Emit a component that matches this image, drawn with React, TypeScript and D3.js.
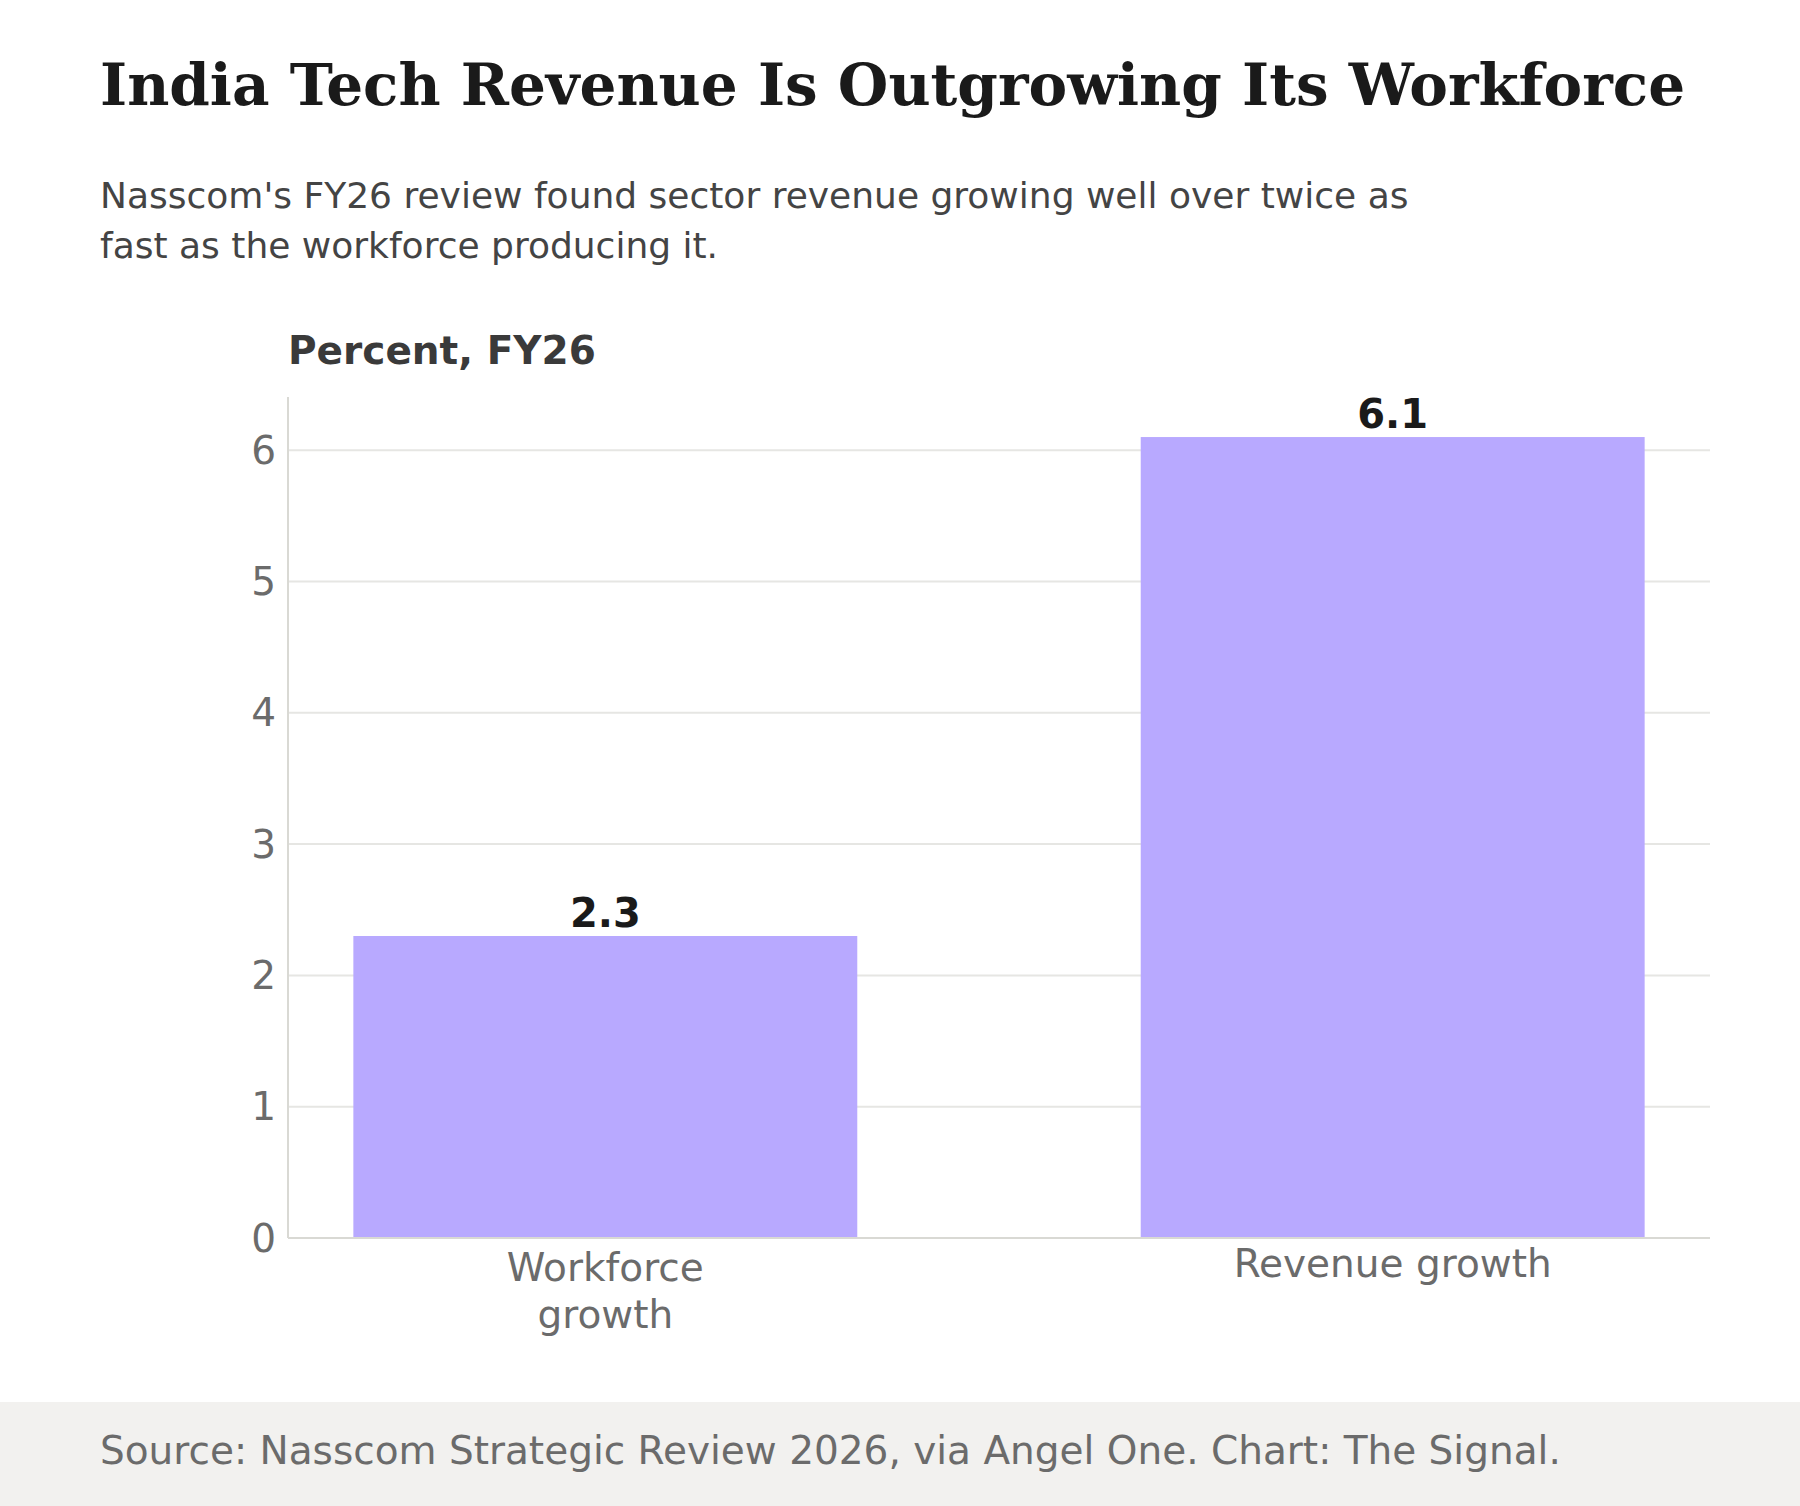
import React, { useEffect, useRef } from 'react';
import * as d3 from 'd3';

const categories: string[] = ['Workforce growth', 'Revenue growth'];
const values: number[] = [2.3, 6.1];
const yTicks: number[] = [0, 1, 2, 3, 4, 5, 6];

const title = 'India Tech Revenue Is Outgrowing Its Workforce';
const subtitleLines: string[] = [
  "Nasscom's FY26 review found sector revenue growing well over twice as",
  'fast as the workforce producing it.',
];
const axisTitle = 'Percent, FY26';
const source = 'Source: Nasscom Strategic Review 2026, via Angel One. Chart: The Signal.';

const SANS = '"DejaVu Sans", Verdana, sans-serif';
const SERIF = '"DejaVu Serif", Georgia, serif';

const App: React.FC = () => {
  const svgRef = useRef<SVGSVGElement | null>(null);

  useEffect(() => {
    if (!svgRef.current) return;
    const width = 1800;
    const height = 1506;
    const svg = d3.select(svgRef.current);
    svg.selectAll('*').remove();
    svg.attr('width', width).attr('height', height);

    const left = 288;
    const right = 1710;
    const top = 397;
    const bottom = 1238;

    const x = d3
      .scaleBand<string>()
      .domain(categories)
      .range([left, right])
      .paddingInner(0.36)
      .paddingOuter(0.083);

    const y = d3
      .scaleLinear()
      .domain([0, d3.max(values)! * 1.05])
      .range([bottom, top]);

    svg.append('rect').attr('width', width).attr('height', height).attr('fill', '#ffffff');

    // header
    svg
      .append('text')
      .attr('x', 100)
      .attr('y', 105)
      .style('font-family', SERIF)
      .style('font-weight', 'bold')
      .style('font-size', '58px')
      .style('fill', '#1a1a1a')
      .text(title);

    svg
      .append('g')
      .selectAll('text')
      .data(subtitleLines)
      .enter()
      .append('text')
      .attr('x', 100)
      .attr('y', (d, i) => 208 + i * 50)
      .style('font-family', SANS)
      .style('font-size', '36px')
      .style('fill', '#444444')
      .text((d) => d);

    svg
      .append('text')
      .attr('x', left)
      .attr('y', 364)
      .style('font-family', SANS)
      .style('font-weight', 'bold')
      .style('font-size', '39px')
      .style('fill', '#3a3a3a')
      .text(axisTitle);

    // gridlines
    svg
      .append('g')
      .selectAll('line')
      .data(yTicks.filter((t) => t > 0))
      .enter()
      .append('line')
      .attr('x1', left)
      .attr('x2', right)
      .attr('y1', (d) => y(d))
      .attr('y2', (d) => y(d))
      .style('stroke', '#e6e6e3')
      .style('stroke-width', 2);

    // y tick labels
    svg
      .append('g')
      .selectAll('text')
      .data(yTicks)
      .enter()
      .append('text')
      .attr('x', left - 12)
      .attr('y', (d) => y(d))
      .attr('dy', '0.35em')
      .attr('text-anchor', 'end')
      .style('font-family', SANS)
      .style('font-size', '39px')
      .style('fill', '#6b6b6b')
      .text((d) => String(d));

    // bars
    svg
      .append('g')
      .selectAll('rect')
      .data(values)
      .enter()
      .append('rect')
      .attr('x', (d, i) => x(categories[i])!)
      .attr('y', (d) => y(d))
      .attr('width', x.bandwidth())
      .attr('height', (d) => y(0) - y(d))
      .style('fill', '#b8a9ff');

    // value labels
    svg
      .append('g')
      .selectAll('text')
      .data(values)
      .enter()
      .append('text')
      .attr('x', (d, i) => x(categories[i])! + x.bandwidth() / 2)
      .attr('y', (d) => y(d) - 9)
      .attr('text-anchor', 'middle')
      .style('font-family', SANS)
      .style('font-weight', 'bold')
      .style('font-size', '40px')
      .style('fill', '#1a1a1a')
      .text((d) => d.toFixed(1));

    // axis lines
    svg
      .append('line')
      .attr('x1', left)
      .attr('x2', left)
      .attr('y1', top)
      .attr('y2', bottom)
      .style('stroke', '#d9d9d4')
      .style('stroke-width', 2);
    svg
      .append('line')
      .attr('x1', left)
      .attr('x2', right)
      .attr('y1', bottom)
      .attr('y2', bottom)
      .style('stroke', '#d9d9d4')
      .style('stroke-width', 2);

    // category labels, wrapped when too wide
    const maxLabel = 330;
    categories.forEach((cat) => {
      const cx = x(cat)! + x.bandwidth() / 2;
      const t = svg
        .append('text')
        .attr('text-anchor', 'middle')
        .style('font-family', SANS)
        .style('font-size', '39px')
        .style('fill', '#6b6b6b');
      const words = cat.split(' ');
      const lines: string[] = [];
      let cur: string[] = [];
      const probe = t.append('tspan');
      words.forEach((w) => {
        const test = [...cur, w].join(' ');
        probe.text(test);
        if ((probe.node() as SVGTSpanElement).getComputedTextLength() > maxLabel && cur.length) {
          lines.push(cur.join(' '));
          cur = [w];
        } else {
          cur.push(w);
        }
      });
      lines.push(cur.join(' '));
      probe.remove();
      const first = lines.length > 1 ? 43 : 39;
      lines.forEach((ln, i) => {
        t.append('tspan')
          .attr('x', cx)
          .attr('y', bottom + first + i * 47)
          .text(ln);
      });
    });

    // footer
    svg
      .append('rect')
      .attr('x', 0)
      .attr('y', 1402)
      .attr('width', width)
      .attr('height', height - 1402)
      .style('fill', '#f2f1ef');
    svg
      .append('text')
      .attr('x', 100)
      .attr('y', 1464)
      .style('font-family', SANS)
      .style('font-size', '39px')
      .style('fill', '#6b6b6b')
      .text(source);
  }, []);

  return (
    <div style={{ position: 'absolute', left: 0, top: 0 }}>
      <svg ref={svgRef} style={{ display: 'block' }}></svg>
    </div>
  );
};

export default App;
